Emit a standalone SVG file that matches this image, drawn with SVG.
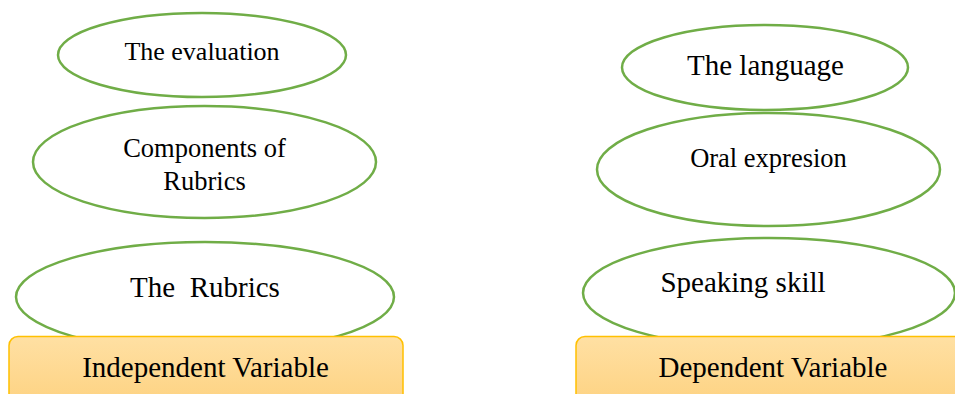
<svg xmlns="http://www.w3.org/2000/svg" width="955" height="394" viewBox="0 0 955 394">
<defs>
<linearGradient id="gold" x1="0" y1="0" x2="0" y2="1">
<stop offset="0" stop-color="#FFE0A3"/>
<stop offset="1" stop-color="#FDD07C"/>
</linearGradient>
<style>
.ell{fill:#FFFFFF;stroke:#70AD47;stroke-width:2.5}
.box{fill:url(#gold);stroke:#FFC000;stroke-width:1.5}
.t{fill:#000000;text-anchor:middle}
</style>
</defs>
<rect width="955" height="394" fill="#FFFFFF"/>
<g id="connectors"></g>
<g font-family="'Times New Roman', 'Liberation Serif', 'DejaVu Serif', serif">
<g id="n-evaluation">
<ellipse class="ell" cx="202" cy="55" rx="144" ry="42"/>
<text class="t" x="202" y="60" font-size="26">The evaluation</text>
</g>
<g id="n-components">
<ellipse class="ell" cx="204.5" cy="162" rx="171.5" ry="56"/>
<text class="t" x="204.5" y="157" font-size="26.5">Components of</text>
<text class="t" x="204.5" y="190" font-size="26.5">Rubrics</text>
</g>
<g id="n-rubrics">
<ellipse class="ell" cx="205" cy="297" rx="189" ry="55"/>
<text class="t" x="205" y="297" font-size="29" xml:space="preserve">The  Rubrics</text>
</g>
<g id="n-independent">
<rect class="box" x="9" y="336.5" width="394" height="80" rx="9"/>
<text class="t" x="205.5" y="377" font-size="29">Independent Variable</text>
</g>
<g id="n-language">
<ellipse class="ell" cx="765" cy="67.5" rx="143" ry="42.5"/>
<text class="t" x="765.5" y="75" font-size="29">The language</text>
</g>
<g id="n-oral">
<ellipse class="ell" cx="768.5" cy="169.5" rx="171.5" ry="56.5"/>
<text class="t" x="768.5" y="167" font-size="26.5">Oral expresion</text>
</g>
<g id="n-speaking">
<ellipse class="ell" cx="769" cy="293" rx="186" ry="55"/>
<text class="t" x="743" y="292" font-size="29">Speaking skill</text>
</g>
<g id="n-dependent">
<rect class="box" x="576" y="336.5" width="400" height="80" rx="9"/>
<text class="t" x="773" y="377" font-size="29">Dependent Variable</text>
</g>
</g>
</svg>
